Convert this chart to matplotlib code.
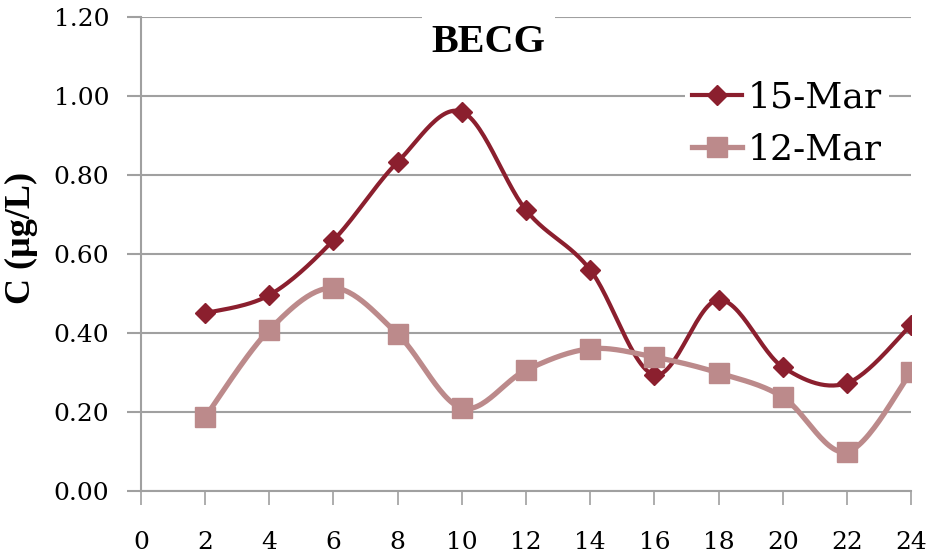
import matplotlib
matplotlib.use("Agg")
import matplotlib.pyplot as plt
import numpy as np

# data
hours = [2, 4, 6, 8, 10, 12, 14, 16, 18, 20, 22, 24]
mar15 = [0.45, 0.496, 0.635, 0.833, 0.96, 0.711, 0.56, 0.294, 0.484, 0.314, 0.273, 0.42]
mar12 = [0.187, 0.408, 0.514, 0.397, 0.21, 0.306, 0.36, 0.339, 0.299, 0.238, 0.099, 0.301]
x_ticks = list(range(0, 25, 2))
y_ticks = [0.0, 0.2, 0.4, 0.6, 0.8, 1.0, 1.2]

DARK = "#8B1F2E"
LIGHT = "#BC8A8B"
GRID = "#A0A0A0"

plt.rcParams["font.family"] = ["DejaVu Serif"]


def smooth(ax, xs, ys, n=30):
    """Excel-like smoothed line (Catmull-Rom in display space)"""
    pts = ax.transData.transform(np.column_stack([xs, ys]))
    p = np.vstack([pts[0], pts, pts[-1]])
    out = []
    t = np.linspace(0, 1, n)[:, None]
    for i in range(1, len(p) - 2):
        p0, p1, p2, p3 = p[i - 1], p[i], p[i + 1], p[i + 2]
        c1 = p1 + (p2 - p0) / 6
        c2 = p2 - (p3 - p1) / 6
        seg = ((1 - t) ** 3) * p1 + 3 * ((1 - t) ** 2) * t * c1 + 3 * (1 - t) * t ** 2 * c2 + t ** 3 * p2
        out.append(seg)
    out = np.vstack(out)
    return ax.transData.inverted().transform(out).T


fig = plt.figure(figsize=(9.3, 5.55), dpi=100)
ax = fig.add_axes([0.1516, 0.1153, 0.828, 0.8541])
ax.set_xlim(0, 24)
ax.set_ylim(0, 1.2)

for ys, color, marker, ms, lw, label in [
    (mar15, DARK, "D", 10, 3.0, "15-Mar"),
    (mar12, LIGHT, "s", 14.5, 3.8, "12-Mar"),
]:
    sx, sy = smooth(ax, hours, ys)
    ax.plot(sx, sy, color=color, lw=lw, zorder=3, solid_capstyle="round")
    ax.plot(hours, ys, linestyle="none", marker=marker, ms=ms, color=color, zorder=4)
    ax.plot([], [], color=color, lw=lw, marker=marker, ms=ms, label=label)

ax.set_xticks(x_ticks)
ax.set_yticks(y_ticks)
ax.set_yticklabels([f"{v:.2f}" for v in y_ticks])
ax.grid(axis="y", color=GRID, lw=1.5, zorder=1)
ax.set_axisbelow(True)

for s in ["top", "right"]:
    ax.spines[s].set_visible(False)
for s in ["left", "bottom"]:
    ax.spines[s].set_color(GRID)
    ax.spines[s].set_linewidth(1.5)

ax.tick_params(axis="x", length=10, width=1.2, color=GRID, pad=19,
               labelsize=18, direction="out")
ax.tick_params(axis="y", length=10, width=1.5, color=GRID, pad=13,
               labelsize=18, direction="out")

ax.set_ylabel("C (µg/L)", fontsize=26, fontweight="bold",
              fontfamily="Liberation Serif")
ax.yaxis.set_label_coords(-0.134, 0.534)

ax.text(0.451, 0.947, "BECG", transform=ax.transAxes, ha="center", va="center",
        fontsize=29, fontweight="bold", fontfamily="Liberation Serif",
        bbox=dict(facecolor="white", edgecolor="none", pad=7), zorder=5)

leg = ax.legend(loc="upper right", bbox_to_anchor=(0.995, 0.92), frameon=True,
                prop={"family": "DejaVu Serif", "size": 26},
                handlelength=1.4, handletextpad=0.15, labelspacing=0.5,
                borderpad=0.2, fancybox=False)
leg.get_frame().set_edgecolor("none")
leg.get_frame().set_facecolor("white")
leg.get_frame().set_alpha(1)

fig.savefig("out.png", dpi=100)
